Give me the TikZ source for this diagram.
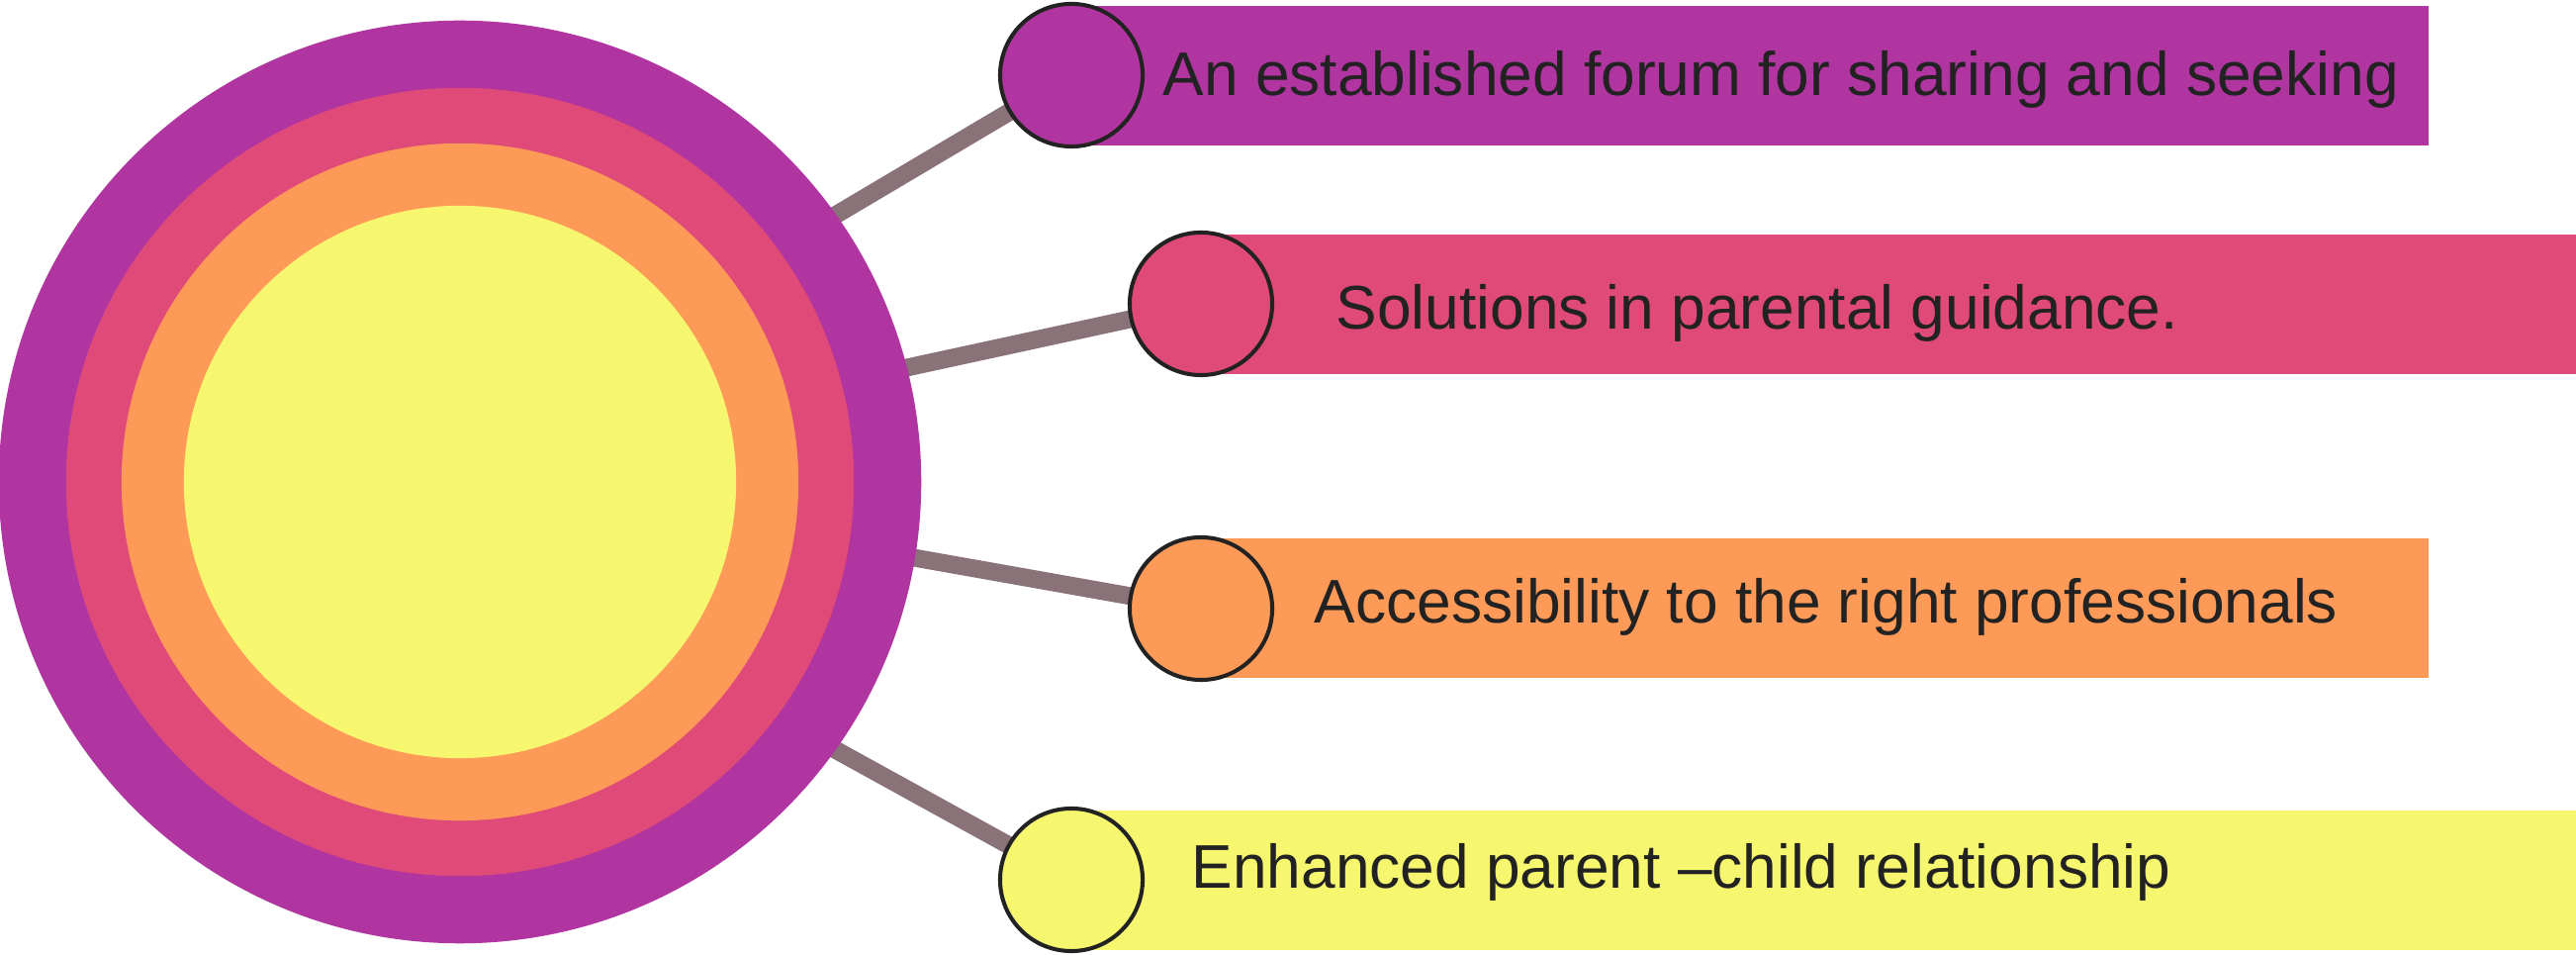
\documentclass[tikz,border=0pt]{standalone}
\usepackage{fontspec}
\setmainfont{Liberation Sans}
\definecolor{ringA}{RGB}{176,53,160}
\definecolor{ringB}{RGB}{224,74,120}
\definecolor{ringC}{RGB}{253,154,87}
\definecolor{ringD}{RGB}{247,247,111}
\definecolor{spoke}{RGB}{137,114,120}
\definecolor{ink}{RGB}{34,34,34}
\tikzset{
  dot/.style={circle,draw=ink,line width=1.15pt,minimum size=1.44cm,inner sep=0pt},
  ring/.style={circle,inner sep=0pt},
  spokeline/.style={spoke,line width=5.1pt},
  label/.style={anchor=base west,inner sep=0pt,text=ink,font=\fontsize{17.7}{20}\selectfont}
}
\begin{document}
\begin{tikzpicture}[x=0.01cm,y=-0.01cm]
        \useasboundingbox (0,0) rectangle (2604,965);
        % Centres
        \coordinate (p1) at (1083,76);
        \coordinate (p2) at (1214,307);
        \coordinate (p3) at (1214,615);
        \coordinate (p4) at (1083,889);
        \coordinate (s1) at (830,226);
        \coordinate (s2) at (905,374);
        \coordinate (s3) at (915,562);
        \coordinate (s4) at (836,753);

        % Bars
        \fill[ringA] (1100,6) rectangle (2455,147);
        \fill[ringB] (1214,237) rectangle (2604,378);
        \fill[ringC] (1214,544) rectangle (2455,685);
        \fill[ringD] (1083,819) rectangle (2604,960);

        % Spokes
        \draw[spokeline] (s1) -- (p1);
        \draw[spokeline] (s2) -- (p2);
        \draw[spokeline] (s3) -- (p3);
        \draw[spokeline] (s4) -- (p4);

        % Hub
        \node[ring,fill=ringA,minimum size=9.32cm] (hub) at (465,487) {};
        \node[ring,fill=ringB,minimum size=7.96cm] (hubB) at (465,487) {};
        \node[ring,fill=ringC,minimum size=6.84cm] (hubC) at (465,487) {};
        \node[ring,fill=ringD,minimum size=5.58cm] (hubD) at (465,487) {};

        % Dots
        \node[dot,fill=ringA] (d1) at (p1) {};
        \node[dot,fill=ringB] (d2) at (p2) {};
        \node[dot,fill=ringC] (d3) at (p3) {};
        \node[dot,fill=ringD] (d4) at (p4) {};

        \node[label] (t1) at (1175,97) {An established forum for sharing and seeking};
        \node[label] (t2) at (1350,333) {Solutions in parental guidance.};
        \node[label] (t3) at (1328,630) {Accessibility to the right professionals};
        \node[label] (t4) at (1204,897) {Enhanced parent –child relationship};
    \end{tikzpicture}
\end{document}
